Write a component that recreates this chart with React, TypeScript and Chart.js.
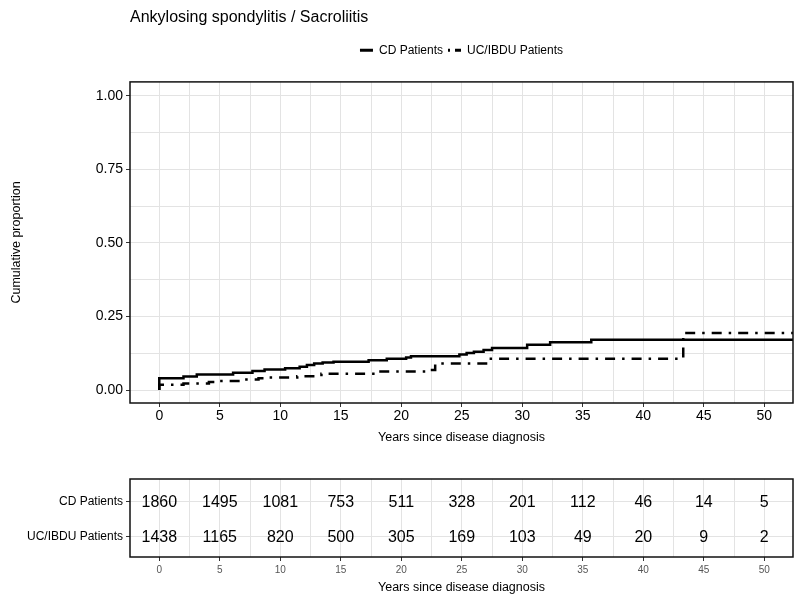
import React, { useEffect, useRef } from 'react';
import { Chart, registerables } from 'chart.js';

Chart.register(...registerables);

const FONT = "'Liberation Sans', Arial, sans-serif";

const chartTitle = 'Ankylosing spondylitis / Sacroliitis';
const seriesLabels = ['CD Patients', 'UC/IBDU Patients'];
const xTitle = 'Years since disease diagnosis';
const yTitle = 'Cumulative proportion';

// Cumulative incidence step curves (time in years, cumulative proportion)
const cdTimes = [0, 0, 2.0, 3.1, 6.1, 7.7, 8.7, 10.4, 11.6, 12.2, 12.8, 13.5, 14.4, 17.3, 18.8, 20.4, 20.8, 24.8, 25.4, 26.0, 26.8, 27.5, 30.4, 32.3, 35.7, 52.4];
const cdValues = [0, 0.040, 0.046, 0.053, 0.059, 0.065, 0.070, 0.074, 0.079, 0.085, 0.090, 0.094, 0.096, 0.101, 0.106, 0.111, 0.115, 0.121, 0.126, 0.130, 0.136, 0.143, 0.154, 0.162, 0.171, 0.171];

const ucTimes = [0, 0, 2.0, 4.1, 4.9, 7.2, 8.2, 9.0, 11.4, 13.4, 18.0, 22.0, 22.8, 27.4, 43.3, 52.4];
const ucValues = [0, 0.018, 0.022, 0.027, 0.031, 0.036, 0.040, 0.043, 0.047, 0.055, 0.063, 0.068, 0.090, 0.106, 0.194, 0.194];

const xTickValues = [0, 5, 10, 15, 20, 25, 30, 35, 40, 45, 50];
const xTickLabels = ['0', '5', '10', '15', '20', '25', '30', '35', '40', '45', '50'];
const xMinorValues = [2.5, 7.5, 12.5, 17.5, 22.5, 27.5, 32.5, 37.5, 42.5, 47.5];
const yTickValues = [0, 0.25, 0.5, 0.75, 1];
const yTickLabels = ['0.00', '0.25', '0.50', '0.75', '1.00'];
const yMinorValues = [0.125, 0.375, 0.625, 0.875];

// Number at risk table
const riskTimes = [0, 5, 10, 15, 20, 25, 30, 35, 40, 45, 50];
const cdAtRisk = [1860, 1495, 1081, 753, 511, 328, 201, 112, 46, 14, 5];
const ucAtRisk = [1438, 1165, 820, 500, 305, 169, 103, 49, 20, 9, 2];
const riskRowValues = [1, 2];

const X_MIN = -2.42;
const X_MAX = 52.37;

const panelBorder = {
  id: 'panelBorder',
  afterDatasetsDraw(chart: any) {
    const { ctx, chartArea: a } = chart;
    ctx.save();
    ctx.strokeStyle = '#111';
    ctx.lineWidth = 1.5;
    ctx.strokeRect(a.left, a.top, a.right - a.left, a.bottom - a.top);
    ctx.restore();
  },
};

const riskText = {
  id: 'riskText',
  afterDatasetsDraw(chart: any) {
    const ctx = chart.ctx;
    ctx.save();
    ctx.font = `16px ${FONT}`;
    ctx.fillStyle = '#000';
    ctx.textAlign = 'center';
    ctx.textBaseline = 'middle';
    chart.data.datasets.forEach((ds: any, di: number) => {
      const meta = chart.getDatasetMeta(di);
      meta.data.forEach((pt: any, i: number) => {
        ctx.fillText(String(ds.data[i].n), pt.x, pt.y + 1);
      });
    });
    ctx.restore();
  },
};

const majorTickColor = (values: number[]) => (c: any) =>
  c.tick && values.includes(c.tick.value) ? '#333333' : 'rgba(0,0,0,0)';

export default function App() {
  const topRef = useRef<HTMLCanvasElement>(null);
  const botRef = useRef<HTMLCanvasElement>(null);

  useEffect(() => {
    Chart.defaults.font.family = FONT;
    const top = new Chart(topRef.current!, {
      type: 'line',
      data: {
        datasets: [
          {
            label: seriesLabels[0],
            data: cdTimes.map((t, i) => ({ x: t, y: cdValues[i] })),
            borderColor: '#000',
            borderWidth: 2.5,
            pointRadius: 0,
            stepped: 'before',
            fill: false,
          },
          {
            label: seriesLabels[1],
            data: ucTimes.map((t, i) => ({ x: t, y: ucValues[i] })),
            borderColor: '#000',
            borderWidth: 2.5,
            borderDash: [10, 7, 2.5, 7],
            pointRadius: 0,
            stepped: 'before',
            fill: false,
          },
        ],
      },
      options: {
        responsive: false,
        animation: false,
        layout: { padding: { left: 0, right: 7, top: 0, bottom: 0 } },
        plugins: {
          title: {
            display: true,
            text: chartTitle,
            align: 'start',
            fullSize: false,
            color: '#000',
            font: { size: 16, weight: 'normal' },
            padding: { top: 8, bottom: 12 },
          },
          subtitle: {
            display: true,
            text: '',
            weight: 500,
            fullSize: false,
            font: { size: 1 },
            padding: { top: 14.5, bottom: 0 },
          } as any,
          legend: {
            display: true,
            position: 'top',
            align: 'center',
            fullSize: false,
            labels: {
              usePointStyle: true,
              pointStyleWidth: 13,
              boxHeight: 12,
              padding: 5,
              color: '#000',
              font: { size: 12 },
              generateLabels: (chart: any) =>
                chart.data.datasets.map((ds: any, i: number) => ({
                  text: ds.label,
                  fillStyle: '#000',
                  strokeStyle: '#000',
                  fontColor: '#000',
                  lineWidth: 3,
                  lineDash: i === 0 ? [] : [2, 5, 6, 20],
                  pointStyle: 'line',
                  hidden: false,
                  datasetIndex: i,
                })),
            },
          },
          tooltip: { enabled: false },
        },
        scales: {
          x: {
            type: 'linear',
            min: X_MIN,
            max: X_MAX,
            afterBuildTicks: (s: any) => {
              s.ticks = [...xTickValues, ...xMinorValues].sort((a, b) => a - b).map((v) => ({ value: v }));
            },
            afterFit: (s: any) => {
              s.height = 47;
            },
            ticks: {
              autoSkip: false,
              maxRotation: 0,
              padding: 1,
              color: '#000',
              font: { size: 14 },
              callback: (v: any) => {
                const i = xTickValues.indexOf(Number(v));
                return i >= 0 ? xTickLabels[i] : '';
              },
            },
            grid: {
              color: '#e3e3e3',
              lineWidth: 1,
              drawTicks: true,
              tickLength: 4,
              tickColor: majorTickColor(xTickValues),
            },
            border: { display: false },
            title: {
              display: true,
              text: xTitle,
              color: '#000',
              font: { size: 12.5 },
              padding: { top: 0, bottom: 5 },
            },
          },
          y: {
            type: 'linear',
            min: -0.044,
            max: 1.047,
            afterBuildTicks: (s: any) => {
              s.ticks = [...yTickValues, ...yMinorValues].sort((a, b) => a - b).map((v) => ({ value: v }));
            },
            afterFit: (s: any) => {
              s.width = 130;
            },
            ticks: {
              autoSkip: false,
              padding: 3,
              color: '#000',
              font: { size: 14 },
              callback: (v: any) => {
                const i = yTickValues.indexOf(Number(v));
                return i >= 0 ? yTickLabels[i] : '';
              },
            },
            grid: {
              color: '#e3e3e3',
              lineWidth: 1,
              drawTicks: true,
              tickLength: 4,
              tickColor: majorTickColor(yTickValues),
            },
            border: { display: false },
            title: {
              display: true,
              text: yTitle,
              color: '#000',
              font: { size: 12.5 },
              padding: { top: 9, bottom: 0 },
            },
          },
        },
      },
      plugins: [panelBorder],
    } as any);

    const bottom = new Chart(botRef.current!, {
      type: 'scatter',
      data: {
        datasets: [
          {
            label: seriesLabels[0],
            data: riskTimes.map((t, i) => ({ x: t, y: riskRowValues[0], n: cdAtRisk[i] })),
            pointRadius: 0,
          },
          {
            label: seriesLabels[1],
            data: riskTimes.map((t, i) => ({ x: t, y: riskRowValues[1], n: ucAtRisk[i] })),
            pointRadius: 0,
          },
        ],
      },
      options: {
        responsive: false,
        animation: false,
        layout: { padding: { left: 0, right: 7, top: 29, bottom: 0 } },
        plugins: { legend: { display: false }, tooltip: { enabled: false } },
        scales: {
          x: {
            type: 'linear',
            min: X_MIN,
            max: X_MAX,
            afterBuildTicks: (s: any) => {
              s.ticks = [...xTickValues, ...xMinorValues].sort((a, b) => a - b).map((v) => ({ value: v }));
            },
            afterFit: (s: any) => {
              s.height = 43;
            },
            ticks: {
              autoSkip: false,
              maxRotation: 0,
              padding: 3,
              color: '#555',
              font: { size: 10 },
              callback: (v: any) => {
                const i = xTickValues.indexOf(Number(v));
                return i >= 0 ? xTickLabels[i] : '';
              },
            },
            grid: {
              color: '#e3e3e3',
              lineWidth: 1,
              drawTicks: true,
              tickLength: 4,
              tickColor: majorTickColor(xTickValues),
            },
            border: { display: false },
            title: {
              display: true,
              text: xTitle,
              color: '#000',
              font: { size: 12.5 },
              padding: { top: 0, bottom: 5 },
            },
          },
          y: {
            type: 'linear',
            reverse: true,
            min: 0.35,
            max: 2.58,
            afterBuildTicks: (s: any) => {
              s.ticks = riskRowValues.map((v) => ({ value: v }));
            },
            afterFit: (s: any) => {
              s.width = 130;
            },
            ticks: {
              autoSkip: false,
              padding: 3,
              color: '#000',
              font: { size: 12 },
              callback: (v: any) => {
                const i = riskRowValues.indexOf(Number(v));
                return i >= 0 ? seriesLabels[i] : '';
              },
            },
            grid: {
              color: '#e3e3e3',
              lineWidth: 1,
              drawTicks: true,
              tickLength: 4,
              tickColor: '#333333',
            },
            border: { display: false },
          },
        },
      },
      plugins: [panelBorder, riskText],
    } as any);

    return () => {
      top.destroy();
      bottom.destroy();
    };
  }, []);

  return (
    <div style={{ position: 'fixed', left: 0, top: 0, width: 800, height: 600, background: '#fff' }}>
      <canvas ref={topRef} width={800} height={450} style={{ position: 'absolute', left: 0, top: 0, display: 'block' }} />
      <canvas ref={botRef} width={800} height={150} style={{ position: 'absolute', left: 0, top: 450, display: 'block' }} />
    </div>
  );
}
